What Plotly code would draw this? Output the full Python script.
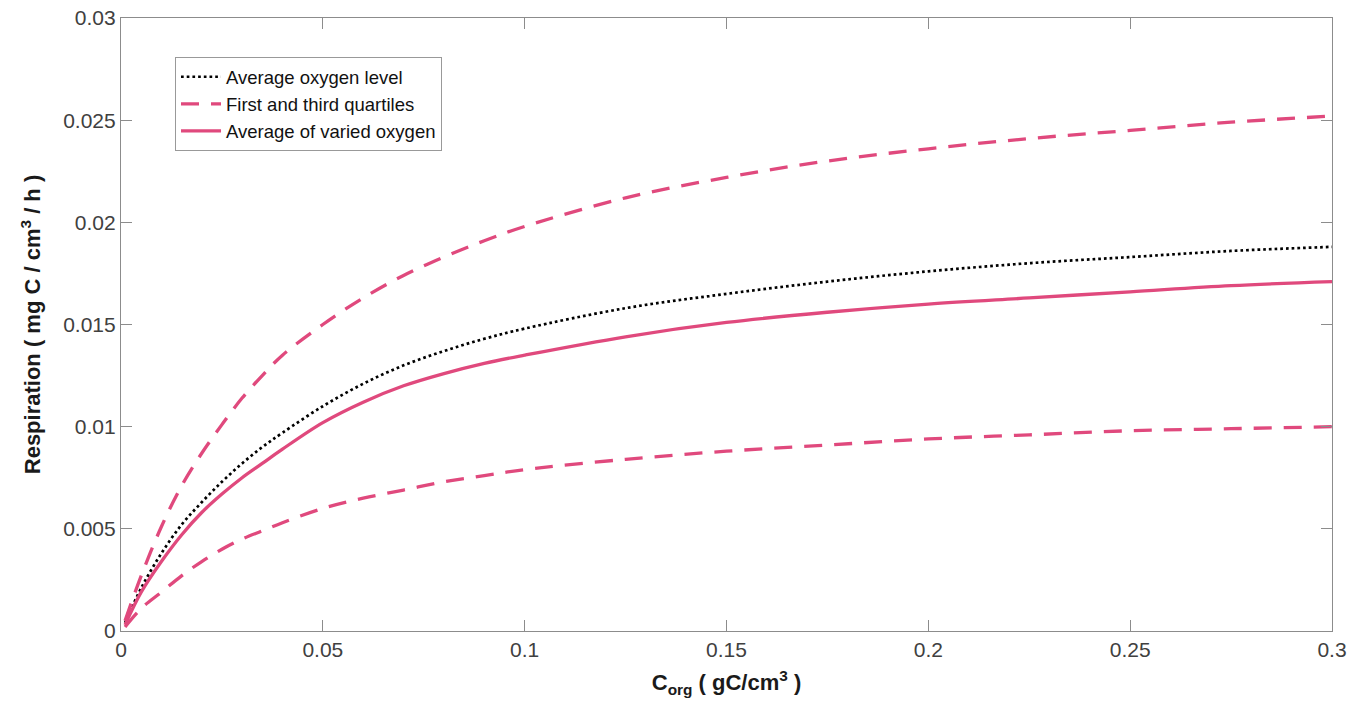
import plotly.graph_objects as go

# Organic carbon concentration (gC/cm^3)
c_org = [0.001, 0.005, 0.01, 0.015, 0.02, 0.025, 0.03, 0.035, 0.04, 0.05,
         0.06, 0.07, 0.08, 0.09, 0.1, 0.125, 0.15, 0.175, 0.2, 0.225,
         0.25, 0.275, 0.3]

# Respiration (mg C / cm^3 / h)
resp_avg_oxygen = [0.0004, 0.0021, 0.0038, 0.0052, 0.0063, 0.0073, 0.0082, 0.0090, 0.0097, 0.0110,
                   0.0121, 0.0130, 0.0137, 0.0143, 0.0148, 0.0158, 0.0165, 0.0171, 0.0176, 0.0180,
                   0.0183, 0.0186, 0.0188]
resp_q1 = [0.0002, 0.0011, 0.0019, 0.0027, 0.0034, 0.0040, 0.0045, 0.0049, 0.0053, 0.0060,
           0.0065, 0.0069, 0.0073, 0.0076, 0.0079, 0.0084, 0.0088, 0.0091, 0.0094, 0.0096,
           0.0098, 0.0099, 0.0100]
resp_q3 = [0.0005, 0.0027, 0.0051, 0.0071, 0.0087, 0.0101, 0.0114, 0.0125, 0.0135, 0.0150,
           0.0163, 0.0174, 0.0183, 0.0191, 0.0198, 0.0212, 0.0222, 0.0230, 0.0236, 0.0241,
           0.0245, 0.0249, 0.0252]
resp_varied = [0.0003, 0.0019, 0.0034, 0.0047, 0.0058, 0.0067, 0.0075, 0.0082, 0.0089, 0.0102,
               0.0112, 0.0120, 0.0126, 0.0131, 0.0135, 0.0144, 0.0151, 0.0156, 0.0160, 0.0163,
               0.0166, 0.0169, 0.0171]

x_ticks = [0, 0.05, 0.1, 0.15, 0.2, 0.25, 0.3]
x_ticktext = ["0", "0.05", "0.1", "0.15", "0.2", "0.25", "0.3"]
y_ticks = [0, 0.005, 0.01, 0.015, 0.02, 0.025, 0.03]
y_ticktext = ["0", "0.005", "0.01", "0.015", "0.02", "0.025", "0.03"]

PINK = "#E0497D"
FONT = "Liberation Sans, Arial, Helvetica, sans-serif"

fig = go.Figure()

fig.add_trace(go.Scatter(
    x=c_org, y=resp_avg_oxygen, mode="lines", name="Average oxygen level",
    line=dict(color="black", width=2.7, dash="2.7px,3px", shape="spline", smoothing=1.0),
    legendrank=1,
))
fig.add_trace(go.Scatter(
    x=c_org, y=resp_q3, mode="lines", name="First and third quartiles",
    legendgroup="quart",
    line=dict(color=PINK, width=3.3, dash="18px,12px", shape="spline", smoothing=1.0),
    legendrank=2,
))
fig.add_trace(go.Scatter(
    x=c_org, y=resp_q1, mode="lines", name="First and third quartiles",
    legendgroup="quart", showlegend=False,
    line=dict(color=PINK, width=3.3, dash="18px,12px", shape="spline", smoothing=1.0),
))
fig.add_trace(go.Scatter(
    x=c_org, y=resp_varied, mode="lines", name="Average of varied oxygen",
    line=dict(color=PINK, width=3.3, shape="spline", smoothing=1.0),
    legendrank=3,
))

axis_common = dict(
    showgrid=False, zeroline=False,
    showline=True, linecolor="#8c8c8c", linewidth=1.2,
    mirror="ticks", ticks="inside", ticklen=11, tickwidth=1.2, tickcolor="#8c8c8c",
    tickfont=dict(family=FONT, size=21, color="#404040"),
)

fig.update_xaxes(
    range=[0, 0.3], tickmode="array", tickvals=x_ticks, ticktext=x_ticktext,
    title=dict(text="<b>C<sub>org</sub> ( gC/cm<sup>3</sup> )</b>",
               font=dict(family=FONT, size=22, color="#1a1a1a"), standoff=14),
    **axis_common,
)
fig.update_yaxes(
    range=[0, 0.03], tickmode="array", tickvals=y_ticks, ticktext=y_ticktext,
    title=dict(text="<b>Respiration ( mg C / cm<sup>3</sup> / h )</b>",
               font=dict(family=FONT, size=22, color="#1a1a1a"), standoff=16),
    **axis_common,
)

fig.update_layout(
    width=1363, height=709,
    margin=dict(l=121, r=31, t=18, b=78, autoexpand=False),
    paper_bgcolor="white", plot_bgcolor="white",
    font=dict(family=FONT),
    legend=dict(
        x=0.0446, y=0.936, xanchor="left", yanchor="top",
        bgcolor="white", bordercolor="#999999", borderwidth=1,
        font=dict(family=FONT, size=18.5, color="#111111"),
        itemwidth=40, tracegroupgap=0,
    ),
    showlegend=True,
)

fig.write_html("out.html")
